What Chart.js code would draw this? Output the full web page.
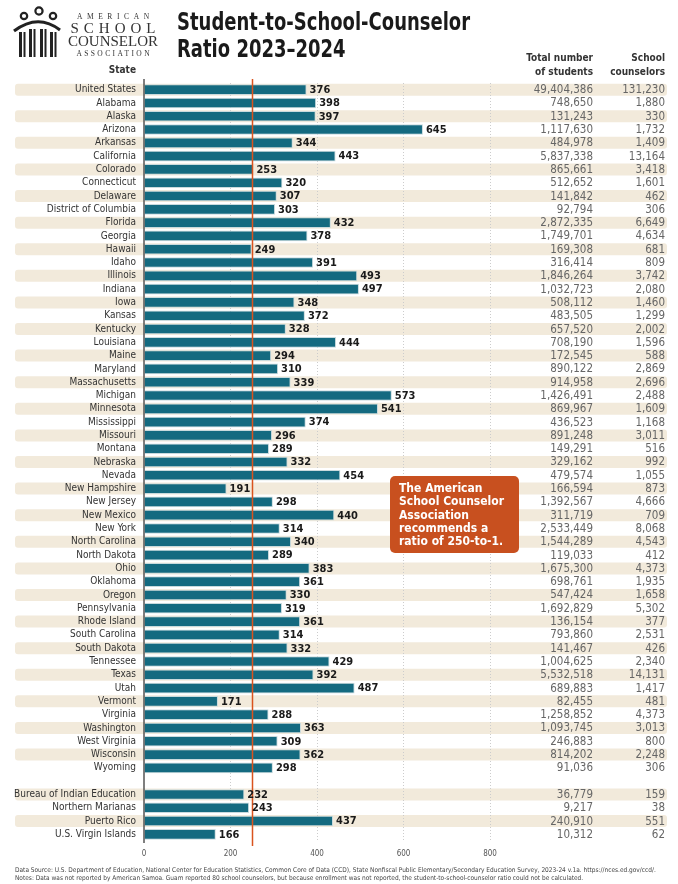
<!DOCTYPE html>
<html>
<head>
<meta charset="utf-8">
<script src="https://cdn.jsdelivr.net/npm/chart.js@4.4.1/dist/chart.umd.min.js"></script>
<style>
  html, body { margin: 0; padding: 0; background: #fff; }
  body { width: 678px; height: 884px; position: relative; overflow: hidden;
         font-family: "DejaVu Sans Condensed", sans-serif; }
  #chart { position: absolute; left: 0; top: 0; }
  .title { position: absolute; left: 177px; top: 8px; font-size: 25px; line-height: 27px;
           font-weight: bold; color: #1a1a1a; transform: scaleX(0.8); transform-origin: 0 0; white-space: nowrap; }
  .logo-text { position: absolute; left: 66px; top: 11px; font-family: "Liberation Serif", "DejaVu Serif", serif;
               color: #333; text-align: center; width: 94px; }
  .logo-text .sm { font-size: 7.5px; letter-spacing: 4.6px; line-height: 11px; margin-right: -4.6px; }
  .logo-text .lg { font-size: 15px; line-height: 13px; }
  .logo-text .sch { letter-spacing: 5px; margin-right: -5px; }
  .footer { position: absolute; left: 15px; top: 866px; font-size: 6.5px; line-height: 8px; color: #444; white-space: nowrap; }
</style>
</head>
<body>
<canvas id="chart" width="678" height="884"></canvas>

<svg style="position:absolute;left:10px;top:5px" width="52" height="54" viewBox="0 0 52 54">
  <g fill="none" stroke="#222" stroke-width="2.2">
    <circle cx="14" cy="11" r="3.2"/>
    <circle cx="29" cy="6" r="3.6"/>
    <circle cx="43" cy="11" r="3.2"/>
    <path d="M4 26 Q28 8 50 25" stroke-width="3"/>
  </g>
  <g fill="#222">
    <rect x="9" y="27" width="3" height="25"/><rect x="13.5" y="27" width="2" height="25"/>
    <rect x="19" y="24" width="3" height="28"/><rect x="23.5" y="24" width="2" height="28"/>
    <rect x="30" y="24" width="3" height="28"/><rect x="34.5" y="24" width="2" height="28"/>
    <rect x="40" y="27" width="3" height="25"/><rect x="44.5" y="27" width="2" height="25"/>
  </g>
</svg>
<div class="logo-text">
  <div class="sm">AMERICAN</div>
  <div class="lg sch">SCHOOL</div>
  <div class="lg">COUNSELOR</div>
  <div class="sm" style="letter-spacing:2.4px;margin-right:-2.4px">ASSOCIATION</div>
</div>
<div class="title">Student-to-School-Counselor<br>Ratio 2023–2024</div>
<div class="footer">Data Source: U.S. Department of Education, National Center for Education Statistics, Common Core of Data (CCD), State Nonfiscal Public Elementary/Secondary Education Survey, 2023-24 v.1a. https://nces.ed.gov/ccd/.<br>Notes: Data was not reported by American Samoa. Guam reported 80 school counselors, but because enrollment was not reported, the student-to-school-counselor ratio could not be calculated.</div>

<script>
const FONT = '"DejaVu Sans Condensed", sans-serif';

// rows of the chart ('' is the blank spacer row before the territories)
const states = [
  'United States', 'Alabama', 'Alaska', 'Arizona', 'Arkansas', 'California', 'Colorado',
  'Connecticut', 'Delaware', 'District of Columbia', 'Florida', 'Georgia', 'Hawaii', 'Idaho',
  'Illinois', 'Indiana', 'Iowa', 'Kansas', 'Kentucky', 'Louisiana', 'Maine', 'Maryland',
  'Massachusetts', 'Michigan', 'Minnesota', 'Mississippi', 'Missouri', 'Montana', 'Nebraska',
  'Nevada', 'New Hampshire', 'New Jersey', 'New Mexico', 'New York', 'North Carolina',
  'North Dakota', 'Ohio', 'Oklahoma', 'Oregon', 'Pennsylvania', 'Rhode Island', 'South Carolina',
  'South Dakota', 'Tennessee', 'Texas', 'Utah', 'Vermont', 'Virginia', 'Washington',
  'West Virginia', 'Wisconsin', 'Wyoming', '',
  'Bureau of Indian Education', 'Northern Marianas', 'Puerto Rico', 'U.S. Virgin Islands'
];

// students per counselor
const ratios = [
  376, 398, 397, 645, 344, 443, 253, 320, 307, 303, 432, 378, 249, 391,
  493, 497, 348, 372, 328, 444, 294, 310, 339, 573, 541, 374, 296, 289, 332,
  454, 191, 298, 440, 314, 340, 289, 383, 361, 330, 319, 361, 314, 332, 429,
  392, 487, 171, 288, 363, 309, 362, 298, null,
  232, 243, 437, 166
];

const students = [
  49404386, 748650, 131243, 1117630, 484978, 5837338, 865661, 512652, 141842, 92794,
  2872335, 1749701, 169308, 316414, 1846264, 1032723, 508112, 483505, 657520, 708190,
  172545, 890122, 914958, 1426491, 869967, 436523, 891248, 149291, 329162, 479574,
  166594, 1392567, 311719, 2533449, 1544289, 119033, 1675300, 698761, 547424, 1692829,
  136154, 793860, 141467, 1004625, 5532518, 689883, 82455, 1258852, 1093745, 246883,
  814202, 91036, null,
  36779, 9217, 240910, 10312
];

const counselors = [
  131230, 1880, 330, 1732, 1409, 13164, 3418, 1601, 462, 306,
  6649, 4634, 681, 809, 3742, 2080, 1460, 1299, 2002, 1596,
  588, 2869, 2696, 2488, 1609, 1168, 3011, 516, 992, 1055,
  873, 4666, 709, 8068, 4543, 412, 4373, 1935, 1658, 5302,
  377, 2531, 426, 2340, 14131, 1417, 481, 4373, 3013, 800,
  2248, 306, null,
  159, 38, 551, 62
];

const xTicks = [0, 200, 400, 600, 800];
const recommended = 250;
const noteLines = ['The American', 'School Counselor', 'Association', 'recommends a', 'ratio of 250-to-1.'];

const isShaded = i => (i <= 51 && i % 2 === 0) || i === 53 || i === 55;

const tablePlugin = {
  id: 'tablePlugin',
  beforeDraw(chart) {
    const ctx = chart.ctx;
    const y = chart.scales.y;
    ctx.save();
    ctx.fillStyle = '#f2eadb';
    states.forEach((s, i) => {
      if (!isShaded(i)) return;
      const cy = y.getPixelForValue(i);
      ctx.beginPath();
      ctx.roundRect(15, cy - 6, 652, 12, 3);
      ctx.fill();
    });
    ctx.restore();
  },
  afterDatasetsDraw(chart) {
    const ctx = chart.ctx;
    const x = chart.scales.x;
    const y = chart.scales.y;
    const area = chart.chartArea;
    ctx.save();
    // axis line
    ctx.strokeStyle = '#555';
    ctx.lineWidth = 1.5;
    ctx.beginPath();
    ctx.moveTo(area.left, area.top - 4);
    ctx.lineTo(area.left, area.bottom + 2);
    ctx.stroke();
    // recommended ratio line
    const rx = Math.round(x.getPixelForValue(recommended)) + 0.5;
    ctx.strokeStyle = '#d9531e';
    ctx.lineWidth = 1.5;
    ctx.beginPath();
    ctx.moveTo(rx, area.top - 4);
    ctx.lineTo(rx, area.bottom + 5);
    ctx.stroke();

    // bar value labels
    ctx.font = 'bold 11px ' + FONT;
    ctx.fillStyle = '#1a1a1a';
    ctx.textBaseline = 'middle';
    ctx.textAlign = 'left';
    chart.getDatasetMeta(0).data.forEach((bar, i) => {
      if (ratios[i] == null) return;
      ctx.fillText(String(ratios[i]), bar.x + 3, bar.y + 0.5);
    });

    // table columns
    ctx.font = '11.5px ' + FONT;
    ctx.fillStyle = '#666';
    ctx.textAlign = 'right';
    states.forEach((s, i) => {
      if (students[i] == null) return;
      const cy = y.getPixelForValue(i) + 0.5;
      ctx.fillText(students[i].toLocaleString('en-US'), 593, cy);
      ctx.fillText(counselors[i].toLocaleString('en-US'), 665, cy);
    });

    // headers
    ctx.font = 'bold 10px ' + FONT;
    ctx.fillStyle = '#333';
    ctx.fillText('Total number', 593, 58);
    ctx.fillText('of students', 593, 72);
    ctx.fillText('School', 665, 58);
    ctx.fillText('counselors', 665, 72);
    ctx.fillText('State', area.left - 8, 70);
    ctx.restore();
  },
  afterDraw(chart) {
    const ctx = chart.ctx;
    ctx.save();
    ctx.fillStyle = '#c8501f';
    ctx.beginPath();
    ctx.roundRect(390, 476, 129, 77, 5);
    ctx.fill();
    ctx.fillStyle = '#fff';
    ctx.font = 'bold 12px ' + FONT;
    ctx.textBaseline = 'middle';
    noteLines.forEach((t, i) => ctx.fillText(t, 399, 489 + i * 13.3));
    ctx.restore();
  }
};

new Chart(document.getElementById('chart'), {
  type: 'bar',
  data: {
    labels: states,
    datasets: [{
      data: ratios,
      backgroundColor: '#146a80',
      borderColor: '#c9dadd',
      borderWidth: 1,
      barPercentage: 0.8,
      categoryPercentage: 1
    }]
  },
  options: {
    indexAxis: 'y',
    responsive: false,
    animation: false,
    layout: { padding: { top: 83, right: 188, bottom: 0, left: 0 } },
    plugins: { legend: { display: false }, tooltip: { enabled: false } },
    scales: {
      x: {
        min: 0,
        max: 800,
        afterBuildTicks: scale => { scale.ticks = xTicks.map(v => ({ value: v })); },
        afterFit: scale => { scale.height = 43; },
        grid: {
          drawTicks: false,
          color: c => (c.tick && c.tick.value === 0) ? 'rgba(0,0,0,0)' : '#cccccc',
          lineWidth: 1
        },
        border: { display: false, dash: [1, 2] },
        ticks: { padding: 8, color: '#555', font: { family: FONT, size: 8 } }
      },
      y: {
        afterFit: scale => { scale.width = 144; },
        grid: { display: false, drawTicks: false },
        border: { display: false },
        ticks: { padding: 8, color: '#333', autoSkip: false, font: { family: FONT, size: 10 } }
      }
    }
  },
  plugins: [tablePlugin]
});
</script>
</body>
</html>
